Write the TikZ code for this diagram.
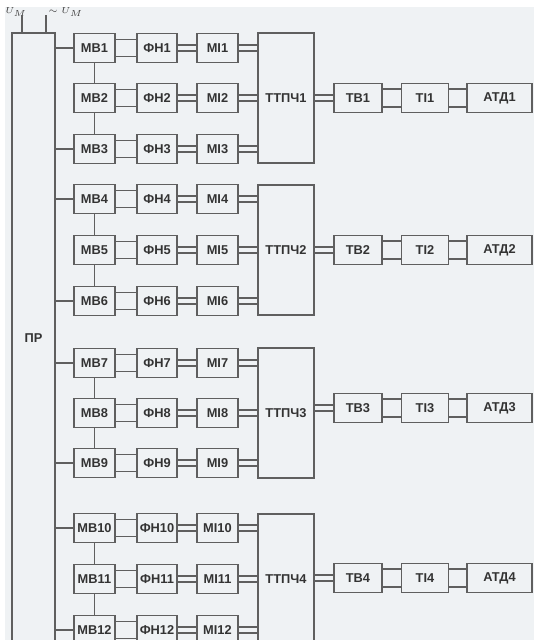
\documentclass[tikz,border=0pt]{standalone}
\usepackage{fontspec}
\setsansfont{Liberation Sans}
\usetikzlibrary{positioning}
\definecolor{bggray}{RGB}{239,242,244}
\definecolor{linegray}{RGB}{95,95,95}
\tikzset{
  blk/.style={draw=linegray, line width=0.8pt, inner sep=0pt, minimum height=16.5pt,
              text=black!80, font=\sffamily\bfseries\fontsize{7.3}{8}\selectfont},
  wire/.style={draw=linegray, line width=0.8pt},
  volt/.style={inner sep=0pt, text=black!75, font=\fontsize{4.5}{5}\selectfont}
}
\begin{document}
\begin{tikzpicture}[x=0.02cm, y=-0.02cm]
  \useasboundingbox (0,0) rectangle (534,640);
  \clip (0,0) rectangle (534,640);
  \fill[bggray] (5,7) rectangle (534,640);
  % power unit and supply
  \node[blk, minimum width=24.5pt, minimum height=347pt] (pr) at (33.5,338) {ПР};
  \coordinate (ua) at (22,15);
  \coordinate (ub) at (46,15);
  \node[volt, anchor=west] (ula) at (5,12) {$U_M$};
  \node[volt, anchor=west] (ulb) at (48,12) {$\sim U_M$};
  \draw[wire] (ua) -- (ua |- pr.north);
  \draw[wire] (ub) -- (ub |- pr.north);
  % channel rows
  \foreach \i/\y/\g in {1/48/1,2/98/1,3/149/1,4/199/2,5/250/2,6/301/2,
                        7/363/3,8/413/3,9/463/3,10/528/4,11/579/4,12/630/4} {
    \node[blk, minimum width=23.3pt] (mb\i) at (94.5,\y) {МВ\i};
    \node[blk, minimum width=22.8pt] (fh\i) at (157,\y) {ФН\i};
    \node[blk, minimum width=23.3pt] (mi\i) at (217.5,\y) {МІ\i};
  }
  % output chains
  \foreach \k/\y/\r in {1/98/98, 2/250/250, 3/413/408, 4/579/578} {
    \node[blk, minimum width=31.9pt, minimum height=74pt] (tt\k) at (286,\y) {ТТПЧ\k};
    \node[blk, minimum width=27.3pt] (tb\k) at (358,\r) {ТВ\k};
    \node[blk, minimum width=26.7pt] (ti\k) at (425,\r) {ТІ\k};
    \node[blk, minimum width=37pt] (atd\k) at (499.5,\r) {АТД\k};
    \draw[wire] ([yshift=1.6pt]tt\k.east |- tb\k.west) -- ([yshift=1.6pt]tb\k.west);
    \draw[wire] ([yshift=-1.6pt]tt\k.east |- tb\k.west) -- ([yshift=-1.6pt]tb\k.west);
    \draw[wire] ([yshift=5.1pt]tb\k.east) -- ([yshift=5.1pt]ti\k.west);
    \draw[wire] ([yshift=-5.1pt]tb\k.east) -- ([yshift=-5.1pt]ti\k.west);
    \draw[wire] ([yshift=5.1pt]ti\k.east) -- ([yshift=5.1pt]atd\k.west);
    \draw[wire] ([yshift=-5.1pt]ti\k.east) -- ([yshift=-5.1pt]atd\k.west);
  }
  % links inside each row
  \foreach \i/\g in {1/1,2/1,3/1,4/2,5/2,6/2,7/3,8/3,9/3,10/4,11/4,12/4} {
    \draw[wire] ([yshift=4.8pt]mb\i.east) -- ([yshift=4.8pt]fh\i.west);
    \draw[wire] ([yshift=-4.8pt]mb\i.east) -- ([yshift=-4.8pt]fh\i.west);
    \draw[wire] ([yshift=1.6pt]fh\i.east) -- ([yshift=1.6pt]mi\i.west);
    \draw[wire] ([yshift=-1.6pt]fh\i.east) -- ([yshift=-1.6pt]mi\i.west);
    \draw[wire] ([yshift=1.6pt]mi\i.east) -- ([yshift=1.6pt]mi\i.east -| tt\g.west);
    \draw[wire] ([yshift=-1.6pt]mi\i.east) -- ([yshift=-1.6pt]mi\i.east -| tt\g.west);
  }
  \foreach \a/\b in {1/2,2/3,4/5,5/6,7/8,8/9,10/11,11/12}
    \draw[wire] (mb\a) -- (mb\b);
  \foreach \i in {1,3,4,6,7,9,10,12}
    \draw[wire] (mb\i.west) -- (mb\i.west -| pr.east);
\end{tikzpicture}
\end{document}
